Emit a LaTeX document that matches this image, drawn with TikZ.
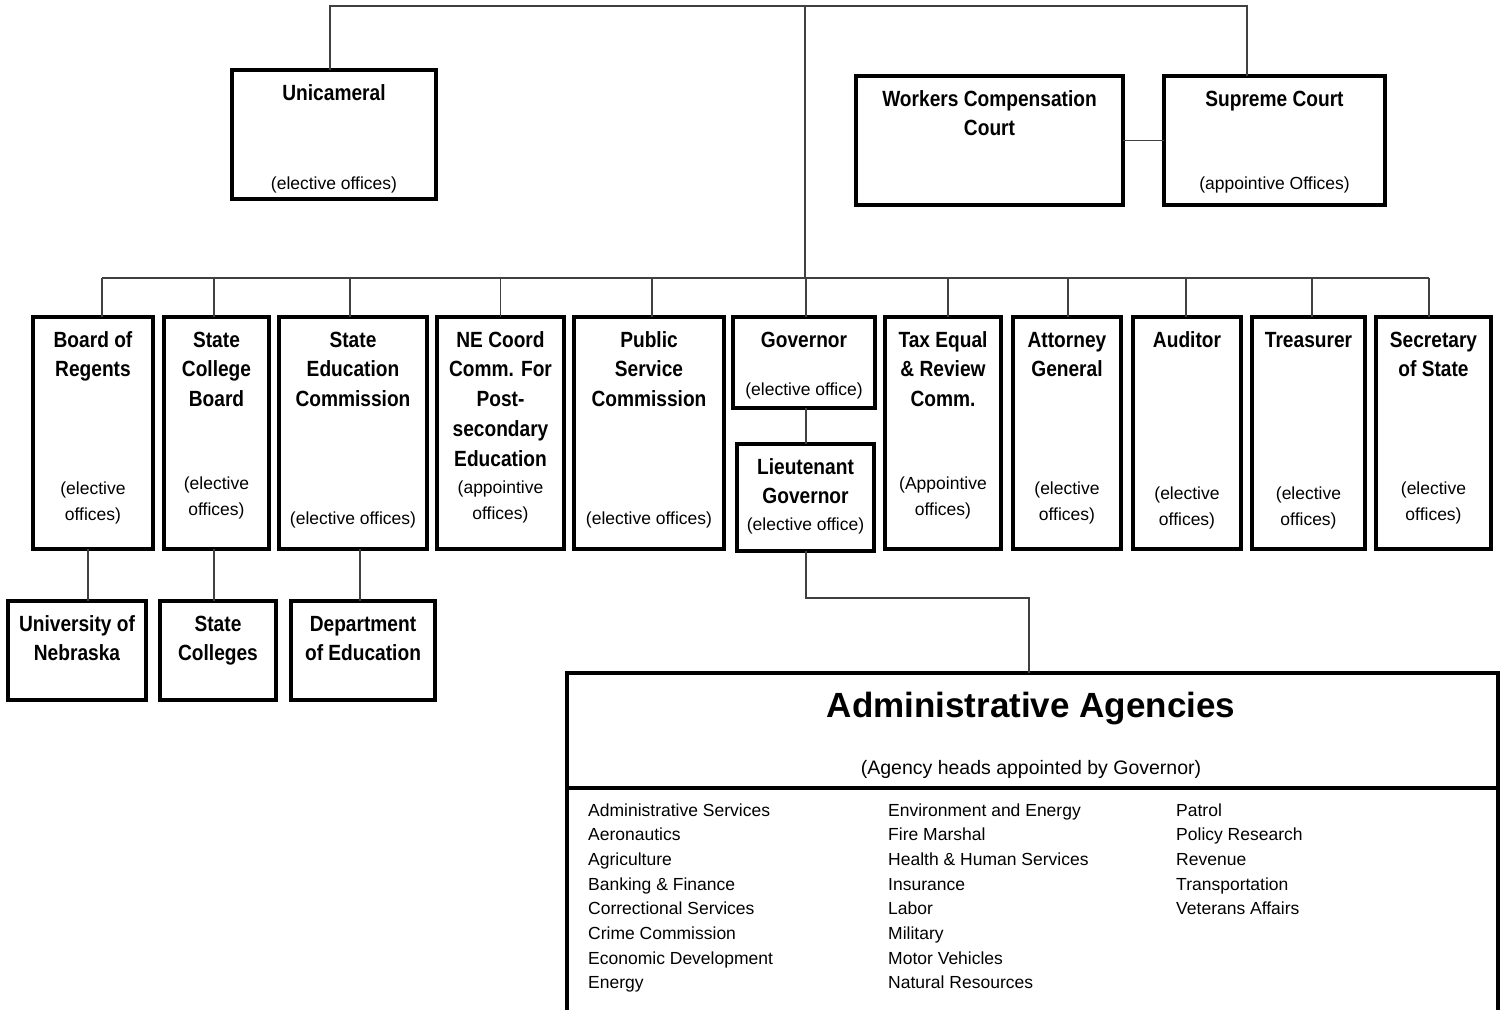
\documentclass[tikz,border=0pt]{standalone}
\usepackage{fontspec}
\setmainfont{Liberation Sans}[BoldFeatures={FakeStretch=0.87}]
\newfontfamily\bannerfont{Liberation Sans}
\usepackage{tikz}
\definecolor{linkgray}{HTML}{404040}

\begin{document}
\begin{tikzpicture}[x=1pt, y=-1pt]
    \tikzset{%
        officebox/.style={draw, line width=4pt, rectangle, inner sep=0pt, outer sep=0pt},
        link/.style={draw=linkgray, line width=1.3pt},
        headtext/.style={font=\bfseries\fontsize{22}{29.7}\selectfont, align=center, inner sep=0pt, anchor=north},
        subtext/.style={font=\fontsize{17.5}{26}\selectfont, align=center, inner sep=0pt, anchor=north},
        agencytext/.style={font=\fontsize{17.5}{20}\selectfont, inner sep=0pt, anchor=base west},
        pics/office/.style args={#1/#2/#3/#4/#5}{code={%
                    \node [officebox, minimum width=#1, minimum height=#2, anchor=north west] (-box) at (0, 0) {};
                    \node [headtext] (-head) at ({#1/2}, 13.5) {\rule{0pt}{16.5pt}#3};
                    \if\relax\detokenize{#4}\relax\else
                        \node [subtext] (-sub) at ({#1/2}, #5 - 13.5) {\rule{0pt}{13.5pt}#4};
                    \fi
                }
        }
    }

    \path [use as bounding box, clip] (0, 0) rectangle (1504, 1009);

    % width/height/title/subtitle/subtitle baseline
    \pic (uni) at (232, 70) {office=204/129/Unicameral/(elective offices)/119};
    \pic (workers) at (856, 76) {office=267/129/Workers Compensation\\Court//0};
    \pic (supreme) at (1164, 76) {office=221/129/Supreme Court/(appointive Offices)/113};

    \pic (regents) at (33, 317) {office=120/232/Board of\\Regents/(elective\\offices)/177};
    \pic (college) at (164, 317) {office=105/232/State\\College\\Board/(elective\\offices)/172};
    \pic (stateedu) at (279, 317) {office=148/232/State\\Education\\Commission/(elective offices)/207};
    \pic (necoord) at (437, 317) {office=127/232/NE Coord\\Comm. For\\Post-\\secondary\\Education/(appointive\\offices)/176};
    \pic (psc) at (574, 317) {office=150/232/Public\\Service\\Commission/(elective offices)/207};
    \pic (governor) at (733, 317) {office=142/91/Governor/(elective office)/78};
    \pic (ltgov) at (737, 444) {office=137/107/Lieutenant\\Governor/(elective office)/86};
    \pic (taxeq) at (885, 317) {office=116/232/Tax Equal\\\& Review\\Comm./(Appointive\\offices)/172};
    \pic (attorney) at (1013, 317) {office=108/232/Attorney\\General/(elective\\offices)/177};
    \pic (auditor) at (1133, 317) {office=108/232/Auditor/(elective\\offices)/182};
    \pic (treasurer) at (1252, 317) {office=113/232/Treasurer/(elective\\offices)/182};
    \pic (secstate) at (1376, 317) {office=115/232/Secretary\\of State/(elective\\offices)/177};

    \pic (unl) at (8, 601) {office=138/99/University of\\Nebraska//0};
    \pic (colleges) at (160, 601) {office=116/99/State\\Colleges//0};
    \pic (deped) at (291, 601) {office=144/99/Department\\of Education//0};

    \node [officebox, minimum width=931, minimum height=400, anchor=north west] (admin) at (567, 673) {};
    \coordinate (divider) at (0, 788);
    \draw [line width=4pt] (admin.west |- divider) -- (admin.east |- divider);
    \node [font=\bannerfont\bfseries\fontsize{35}{40}\selectfont, inner sep=0pt, anchor=base] (admin-title) at (1031, 717) {Administrative Agencies};
    \node [font=\fontsize{19.5}{24}\selectfont, inner sep=0pt, anchor=base] (admin-sub) at (1031, 774) {(Agency heads appointed by Governor)};
    \foreach \xcol/\agencies in {588/{Administrative Services, Aeronautics, Agriculture, Banking \& Finance, Correctional Services, Crime Commission, Economic Development, Energy},
            888/{Environment and Energy, Fire Marshal, Health \& Human Services, Insurance, Labor, Military, Motor Vehicles, Natural Resources},
            1176/{Patrol, Policy Research, Revenue, Transportation, Veterans Affairs}} {
            \foreach \agency [count=\i] in \agencies {
                    \node [agencytext] (agency-\xcol-\i) at (\xcol, {816 + (\i - 1)*24.7}) {\agency};
                }
        }

    % connectors
    \coordinate (toprail) at (805, 6);
    \coordinate (bus) at (805, 278);
    \draw [link] ([xshift=-4pt]uni-box.north) |- (toprail) -| ([xshift=-27.5pt]supreme-box.north);
    \draw [link] (toprail) -- (bus);
    \draw [link] (workers-box.east) -- (supreme-box.west);
    \foreach \name/\dx in {regents/9, college/-2.5, stateedu/-3, necoord/0, psc/3, governor/2, taxeq/5, attorney/1, auditor/-1, treasurer/3.5, secstate/-4.5} {
            \coordinate (\name-drop) at ([xshift=\dx pt]\name-box.north);
            \draw [link] (\name-drop) -- (\name-drop |- bus);
        }
    \draw [link] (regents-drop |- bus) -- (secstate-drop |- bus);

    \foreach \upper/\lower/\dx in {regents/unl/-5, college/colleges/-2.5, stateedu/deped/7, governor/ltgov/2} {
            \coordinate (\upper-down) at ([xshift=\dx pt]\upper-box.south);
            \draw [link] (\upper-down) -- (\upper-down |- \lower-box.north);
        }
    \draw [link] ([xshift=0.5pt]ltgov-box.south) -- ++(0, 47) -| ([xshift=-3.5pt]admin.north);
\end{tikzpicture}
\end{document}
